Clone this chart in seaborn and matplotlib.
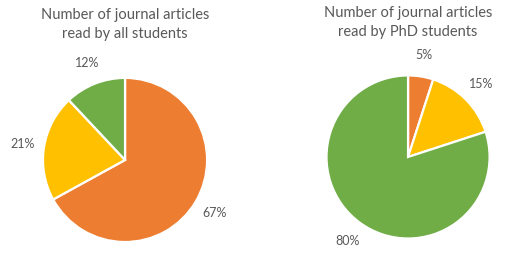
import matplotlib
matplotlib.use("Agg")
import matplotlib.pyplot as plt
import seaborn as sns

categories = ["Orange", "Yellow", "Green"]
all_students = [67, 21, 12]
phd_students = [5, 15, 80]
titles = ["Number of journal articles\nread by all students",
          "Number of journal articles\nread by PhD students"]

sns.set_theme(style="white")
plt.rcParams['font.family'] = ['Lato', 'DejaVu Sans']
colors = ["#ED7D31", "#FFC000", "#70AD47"]

fig = plt.figure(figsize=(5.21, 2.58), dpi=100)
fig.patch.set_facecolor("white")

axes_rects = [[0.0825, 0.062, 0.315, 0.636], [0.6267, 0.0756, 0.313, 0.632]]
title_pos = [(0.240, 0.905), (0.783, 0.913)]

for rect, vals, title, tp in zip(axes_rects, [all_students, phd_students], titles, title_pos):
    ax = fig.add_axes(rect)
    wedges, texts, autotexts = ax.pie(
        vals, colors=colors, startangle=90, counterclock=False,
        autopct=lambda p: f"{p:.0f}%", pctdistance=1.27,
        wedgeprops=dict(edgecolor="white", linewidth=1.6))
    for t in autotexts:
        t.set_color("#595959")
        t.set_fontsize(9)
    ax.set_xlim(-1, 1)
    ax.set_ylim(-1, 1)
    ax.set_aspect("equal")
    ax.axis("off")
    fig.text(tp[0], tp[1], title, ha="center", va="center", fontsize=10.5,
             color="#595959", linespacing=1.4)

fig.savefig("out.png", dpi=100, facecolor="white")
